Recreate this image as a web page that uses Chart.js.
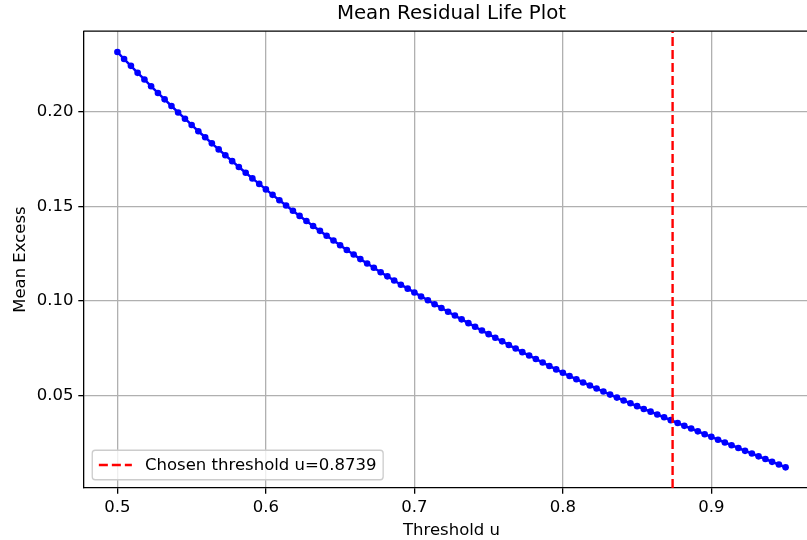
<!DOCTYPE html>
<html>
<head>
<meta charset="utf-8">
<script src="https://cdn.jsdelivr.net/npm/chart.js@4/dist/chart.umd.min.js"></script>
<style>
  html, body { margin: 0; padding: 0; background: #ffffff; overflow: hidden; }
  #wrap { width: 807px; height: 540px; overflow: hidden; position: relative; background: #ffffff; }
  #c { display: block; }
</style>
</head>
<body>
<div id="wrap"><canvas id="c" width="840" height="540" style="width:840px;height:540px"></canvas></div>
<script>
// ---- data ----
const thresholds = [
  0.5000, 0.5045, 0.5091, 0.5136, 0.5182, 0.5227, 0.5273, 0.5318, 0.5364, 0.5409,
  0.5455, 0.5500, 0.5545, 0.5591, 0.5636, 0.5682, 0.5727, 0.5773, 0.5818, 0.5864,
  0.5909, 0.5955, 0.6000, 0.6045, 0.6091, 0.6136, 0.6182, 0.6227, 0.6273, 0.6318,
  0.6364, 0.6409, 0.6455, 0.6500, 0.6545, 0.6591, 0.6636, 0.6682, 0.6727, 0.6773,
  0.6818, 0.6864, 0.6909, 0.6955, 0.7000, 0.7045, 0.7091, 0.7136, 0.7182, 0.7227,
  0.7273, 0.7318, 0.7364, 0.7409, 0.7455, 0.7500, 0.7545, 0.7591, 0.7636, 0.7682,
  0.7727, 0.7773, 0.7818, 0.7864, 0.7909, 0.7955, 0.8000, 0.8045, 0.8091, 0.8136,
  0.8182, 0.8227, 0.8273, 0.8318, 0.8364, 0.8409, 0.8455, 0.8500, 0.8545, 0.8591,
  0.8636, 0.8682, 0.8727, 0.8773, 0.8818, 0.8864, 0.8909, 0.8955, 0.9000, 0.9045,
  0.9091, 0.9136, 0.9182, 0.9227, 0.9273, 0.9318, 0.9364, 0.9409, 0.9455, 0.9500
];
const meanExcess = [
  0.2314, 0.2277, 0.2241, 0.2204, 0.2169, 0.2133, 0.2098, 0.2064, 0.2029, 0.1995,
  0.1962, 0.1929, 0.1896, 0.1864, 0.1832, 0.1800, 0.1769, 0.1738, 0.1707, 0.1677,
  0.1647, 0.1618, 0.1589, 0.1560, 0.1532, 0.1504, 0.1476, 0.1449, 0.1422, 0.1396,
  0.1370, 0.1344, 0.1319, 0.1294, 0.1269, 0.1245, 0.1221, 0.1198, 0.1175, 0.1152,
  0.1130, 0.1108, 0.1086, 0.1065, 0.1045, 0.1024, 0.1004, 0.0983, 0.0963, 0.0943,
  0.0923, 0.0903, 0.0883, 0.0864, 0.0844, 0.0825, 0.0806, 0.0787, 0.0768, 0.0749,
  0.0730, 0.0712, 0.0694, 0.0675, 0.0657, 0.0639, 0.0621, 0.0604, 0.0587, 0.0570,
  0.0554, 0.0538, 0.0522, 0.0506, 0.0490, 0.0475, 0.0460, 0.0445, 0.0430, 0.0416,
  0.0401, 0.0386, 0.0371, 0.0356, 0.0341, 0.0327, 0.0312, 0.0297, 0.0283, 0.0268,
  0.0253, 0.0239, 0.0224, 0.0209, 0.0195, 0.0180, 0.0166, 0.0151, 0.0137, 0.0122
];
const chosenThreshold = 0.8739;
const xTicks = [0.5, 0.6, 0.7, 0.8, 0.9];
const xTickLabels = ['0.5', '0.6', '0.7', '0.8', '0.9'];
const yTicks = [0.05, 0.10, 0.15, 0.20];
const yTickLabels = ['0.05', '0.10', '0.15', '0.20'];
const xLimits = [0.4775, 0.9725];
const yLimits = [0.0013, 0.2424];
const titleText = 'Mean Residual Life Plot';
const xLabel = 'Threshold u';
const yLabel = 'Mean Excess';
const legendLabel = 'Chosen threshold u=0.8739';

// ---- styling ----
const FONT = '"DejaVu Sans", "Liberation Sans", sans-serif';
const FS = 16.5;
Chart.defaults.font.family = FONT;
Chart.defaults.color = '#000000';

const topSpine = {
  id: 'topSpine',
  afterDatasetsDraw(chart) {
    const { ctx, chartArea: ca } = chart;
    ctx.save();
    ctx.strokeStyle = '#000000';
    ctx.lineWidth = 1.3;
    ctx.beginPath();
    ctx.moveTo(ca.left - 0.65, ca.top);
    ctx.lineTo(ca.right, ca.top);
    ctx.stroke();
    ctx.restore();
  }
};

const mplLegend = {
  id: 'mplLegend',
  afterDraw(chart) {
    const { ctx, chartArea: ca } = chart;
    const ds = chart.data.datasets[1];
    ctx.save();
    ctx.font = FS + 'px ' + FONT;
    const tw = ctx.measureText(ds.label).width;
    const pad = 0.4 * FS, handle = 2 * FS, gap = 0.8 * FS;
    const w = pad + handle + gap + tw + pad;
    const h = 29.5;
    const x0 = ca.left + 0.5 * FS, y1 = ca.bottom - 0.5 * FS, y0 = y1 - h;
    const r = 3;
    ctx.beginPath();
    ctx.moveTo(x0 + r, y0);
    ctx.lineTo(x0 + w - r, y0);
    ctx.arcTo(x0 + w, y0, x0 + w, y0 + r, r);
    ctx.lineTo(x0 + w, y1 - r);
    ctx.arcTo(x0 + w, y1, x0 + w - r, y1, r);
    ctx.lineTo(x0 + r, y1);
    ctx.arcTo(x0, y1, x0, y1 - r, r);
    ctx.lineTo(x0, y0 + r);
    ctx.arcTo(x0, y0, x0 + r, y0, r);
    ctx.closePath();
    ctx.fillStyle = 'rgba(255,255,255,0.8)';
    ctx.fill();
    ctx.strokeStyle = '#cccccc';
    ctx.lineWidth = 1.3;
    ctx.stroke();
    const cy = (y0 + y1) / 2;
    ctx.strokeStyle = ds.borderColor;
    ctx.lineWidth = ds.borderWidth;
    ctx.setLineDash(ds.borderDash);
    ctx.beginPath();
    ctx.moveTo(x0 + pad, cy);
    ctx.lineTo(x0 + pad + handle, cy);
    ctx.stroke();
    ctx.setLineDash([]);
    ctx.fillStyle = '#000000';
    ctx.textBaseline = 'middle';
    ctx.textAlign = 'left';
    ctx.fillText(ds.label, x0 + pad + handle + gap, cy + 0.5);
    ctx.restore();
  }
};

const curveData = thresholds.map((x, i) => ({ x: x, y: meanExcess[i] }));
const thresholdData = [{ x: chosenThreshold, y: yLimits[0] }, { x: chosenThreshold, y: yLimits[1] }];

new Chart(document.getElementById('c'), {
  type: 'scatter',
  data: {
    datasets: [
      {
        label: 'Mean excess',
        data: curveData,
        showLine: true,
        borderColor: '#0000ff',
        backgroundColor: '#0000ff',
        borderWidth: 2.5,
        pointRadius: 3.3,
        pointBorderWidth: 0,
        pointBackgroundColor: '#0000ff',
        tension: 0,
        order: 2
      },
      {
        label: legendLabel,
        data: thresholdData,
        showLine: true,
        borderColor: '#ff0000',
        borderWidth: 2.4,
        borderDash: [9, 4],
        pointRadius: 0,
        order: 1
      }
    ]
  },
  options: {
    responsive: false,
    animation: false,
    devicePixelRatio: 1,
    layout: { padding: { left: 0, right: 21, top: 0, bottom: 0 } },
    plugins: {
      legend: { display: false },
      tooltip: { enabled: false },
      title: {
        display: true,
        text: titleText,
        fullSize: false,
        color: '#000000',
        font: { size: 19.8, weight: 'normal', family: FONT },
        padding: { top: 2.2, bottom: 5.2 }
      }
    },
    scales: {
      x: {
        type: 'linear',
        min: xLimits[0],
        max: xLimits[1],
        afterBuildTicks: (s) => { s.ticks = xTicks.map(v => ({ value: v })); },
        afterFit: (s) => { s.height = 52; },
        ticks: {
          callback: (v, i) => xTickLabels[i],
          font: { size: FS, family: FONT },
          color: '#000000',
          padding: 4.5,
          maxRotation: 0,
          autoSkip: false
        },
        grid: {
          color: '#b0b0b0',
          lineWidth: 1.3,
          drawTicks: true,
          tickLength: 5.7,
          tickColor: '#000000',
          tickWidth: 1.3
        },
        border: { display: true, color: '#000000', width: 1.3 },
        title: {
          display: true,
          text: xLabel,
          color: '#000000',
          font: { size: FS, family: FONT },
          padding: { top: 0, bottom: -0.5 }
        }
      },
      y: {
        type: 'linear',
        min: yLimits[0],
        max: yLimits[1],
        afterBuildTicks: (s) => { s.ticks = yTicks.map(v => ({ value: v })); },
        afterFit: (s) => { s.width = 84; },
        ticks: {
          callback: (v, i) => yTickLabels[i],
          font: { size: FS, family: FONT },
          color: '#000000',
          padding: 4.8,
          autoSkip: false
        },
        grid: {
          color: '#b0b0b0',
          lineWidth: 1.3,
          drawTicks: true,
          tickLength: 5.7,
          tickColor: '#000000',
          tickWidth: 1.3
        },
        border: { display: true, color: '#000000', width: 1.3 },
        title: {
          display: true,
          text: yLabel,
          color: '#000000',
          font: { size: FS, family: FONT },
          padding: { top: 10.7, bottom: 0 }
        }
      }
    }
  },
  plugins: [topSpine, mplLegend]
});
</script>
</body>
</html>
